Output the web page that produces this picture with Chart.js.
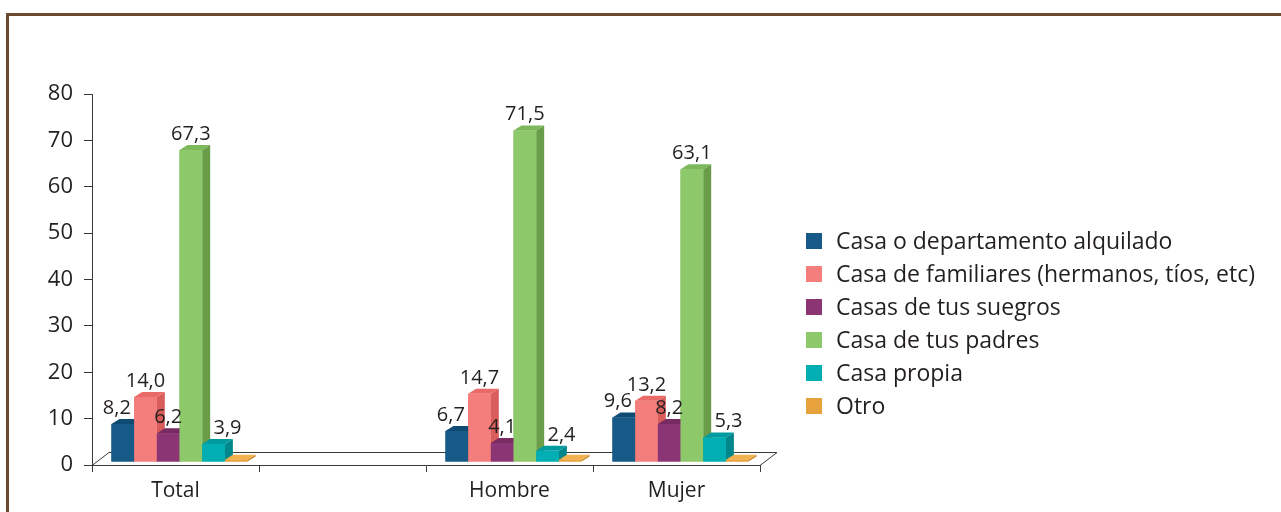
<!DOCTYPE html>
<html>
<head>
<meta charset="utf-8">
<script src="https://cdn.jsdelivr.net/npm/chart.js@4.4.1/dist/chart.umd.min.js"></script>
<style>
  html, body { margin: 0; padding: 0; background: #fff; overflow: hidden; }
  #wrap { position: relative; width: 1281px; height: 512px; }
  #frame { position: absolute; left: 6px; top: 13px; right: -10px; bottom: -10px;
           border-left: 3px solid #6b4a2f; border-top: 3px solid #6b4a2f; }
  canvas { position: absolute; left: 0; top: 0; }
</style>
</head>
<body>
<div id="wrap">
  <div id="frame"></div>
  <canvas id="chart" width="1281" height="512"></canvas>
</div>
<script>
const categories = ['Total', '', 'Hombre', 'Mujer'];
const seriesNames = [
  'Casa o departamento alquilado',
  'Casa de familiares (hermanos, tíos, etc)',
  'Casas de tus suegros',
  'Casa de tus padres',
  'Casa propia',
  'Otro'
];
const alquilado  = [8.2, null, 6.7, 9.6];
const familiares = [14.0, null, 14.7, 13.2];
const suegros    = [6.2, null, 4.1, 8.2];
const padres     = [67.3, null, 71.5, 63.1];
const propia     = [3.9, null, 2.4, 5.3];
const otro       = [0.5, null, 0.5, 0.5];

const frontColors = ['#175a87', '#f37e7b', '#8c3574', '#8dc86b', '#00aeb3', '#e8a23c'];
const topColors   = ['#0f4a73', '#e96a67', '#782a62', '#7db85b', '#009ba0', '#f2b04e'];
const sideColors  = ['#0d3f62', '#d95d5a', '#66214f', '#699d47', '#00878b', '#c98628'];
const labelShift  = [-6, 0, 0, 0, 14, 0];

const FONT = '"Open Sans", "DejaVu Sans", sans-serif';
const TXT = '#231f20';
const AXIS = '#3a3a3a';
const DX = 8, DY = 5;          // depth of the bar top/side faces
const SHIFT_X = 4, SHIFT_Y = -3; // bars sit a little behind the front edge
const FLOOR_X = 17, FLOOR_Y = 13;

const fmt = v => v.toFixed(1).replace('.', ',');

const floor3d = {
  id: 'floor3d',
  beforeDatasetsDraw(chart) {
    const { ctx, chartArea: a } = chart;
    ctx.save();
    ctx.strokeStyle = AXIS;
    ctx.lineWidth = 1;
    ctx.beginPath();
    ctx.moveTo(a.left, a.bottom + 0.5);
    ctx.lineTo(a.left + FLOOR_X, a.bottom - FLOOR_Y + 0.5);
    ctx.lineTo(a.right + FLOOR_X, a.bottom - FLOOR_Y + 0.5);
    ctx.lineTo(a.right, a.bottom + 0.5);
    ctx.stroke();
    ctx.restore();
    ctx.save();
    ctx.translate(SHIFT_X, SHIFT_Y);
  },
  afterDatasetsDraw(chart) {
    const ctx = chart.ctx;
    const n = chart.data.datasets.length;
    chart.data.labels.forEach((_, j) => {
      for (let i = 0; i < n; i++) {
        const el = chart.getDatasetMeta(i).data[j];
        const v = chart.data.datasets[i].data[j];
        if (v == null || !el) continue;
        const l = el.x - el.width / 2, r = el.x + el.width / 2;
        const t = el.y, b = el.base;
        ctx.fillStyle = sideColors[i];
        ctx.beginPath();
        ctx.moveTo(r, t); ctx.lineTo(r + DX, t - DY); ctx.lineTo(r + DX, b - DY); ctx.lineTo(r, b);
        ctx.closePath(); ctx.fill();
        ctx.fillStyle = topColors[i];
        ctx.beginPath();
        ctx.moveTo(l, t); ctx.lineTo(l + DX, t - DY); ctx.lineTo(r + DX, t - DY); ctx.lineTo(r, t);
        ctx.closePath(); ctx.fill();
        ctx.fillStyle = frontColors[i];
        ctx.fillRect(l, t, r - l, b - t);
      }
    });
    // value labels
    ctx.fillStyle = TXT;
    ctx.font = '20px ' + FONT;
    ctx.textAlign = 'center';
    ctx.textBaseline = 'alphabetic';
    for (let i = 0; i < n - 1; i++) {
      chart.getDatasetMeta(i).data.forEach((el, j) => {
        const v = chart.data.datasets[i].data[j];
        if (v == null) return;
        ctx.fillText(fmt(v), el.x + labelShift[i], el.y - DY - 5);
      });
    }
    ctx.restore();
  }
};

const sideLegend = {
  id: 'sideLegend',
  afterDraw(chart) {
    const ctx = chart.ctx;
    ctx.save();
    ctx.font = '23px ' + FONT;
    ctx.textBaseline = 'middle';
    ctx.textAlign = 'left';
    seriesNames.forEach((name, i) => {
      const y = 241 + i * 33;
      ctx.fillStyle = frontColors[i];
      ctx.fillRect(806, y - 8, 16, 16);
      ctx.fillStyle = TXT;
      ctx.fillText(name, 836, y + 1);
    });
    ctx.restore();
  }
};

const seriesData = [alquilado, familiares, suegros, padres, propia, otro];

new Chart(document.getElementById('chart'), {
  type: 'bar',
  data: {
    labels: categories,
    datasets: seriesData.map((d, i) => ({
      label: seriesNames[i],
      data: d,
      backgroundColor: frontColors[i],
      borderWidth: 0,
      barPercentage: 1,
      categoryPercentage: 0.815
    }))
  },
  options: {
    responsive: false,
    animation: false,
    layout: { padding: { left: 0, top: 94, right: 521, bottom: 0 } },
    plugins: { legend: { display: false }, tooltip: { enabled: false } },
    scales: {
      x: {
        afterFit: s => { s.height = 47; },
        grid: { drawOnChartArea: false, tickLength: 7, color: AXIS, offset: true },
        border: { color: AXIS },
        ticks: { color: TXT, font: { family: FONT, size: 21 }, padding: 6 }
      },
      y: {
        min: 0, max: 80,
        afterFit: s => { s.width = 92; },
        grid: { drawOnChartArea: false, tickLength: 8, color: AXIS },
        border: { color: AXIS },
        ticks: { stepSize: 10, color: TXT, font: { family: FONT, size: 22 }, padding: 11 }
      }
    }
  },
  plugins: [floor3d, sideLegend]
});
</script>
</body>
</html>
